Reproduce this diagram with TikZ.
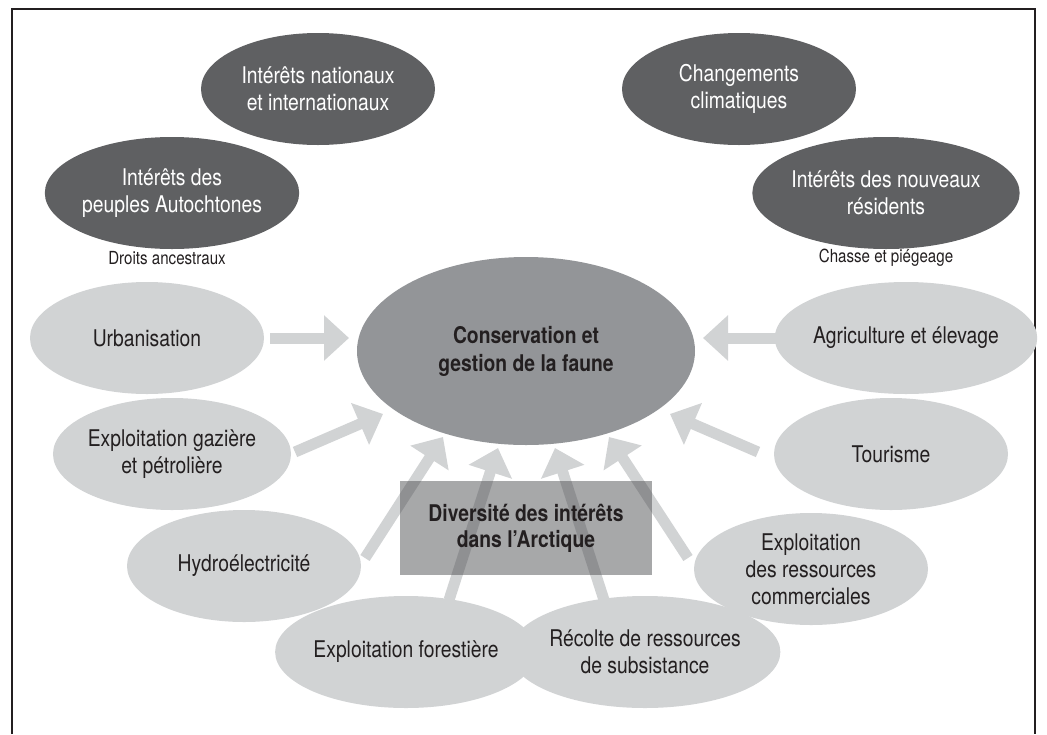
\documentclass[tikz,border=0pt]{standalone}
\usepackage{fontspec}
\setmainfont{TeX Gyre Heros}[FakeStretch=0.84]
\usetikzlibrary{shapes.geometric,arrows.meta}
\definecolor{darkE}{RGB}{95,96,98}
\definecolor{midE}{RGB}{147,149,152}
\definecolor{lightE}{RGB}{209,211,212}
\definecolor{rectC}{RGB}{72,73,76}
\definecolor{txt}{RGB}{35,31,32}
\tikzset{
  baseell/.style={ellipse, inner sep=0pt, align=center, minimum width=234pt, minimum height=112pt, font=\fontsize{23}{27}\selectfont},
  darkell/.style={baseell, fill=darkE, text=white},
  lightell/.style={baseell, fill=lightE, text=txt},
  smalllabel/.style={text=txt, font=\fontsize{18}{20}\selectfont},
  blockarrow/.style={draw=lightE, line width=11pt, -{Triangle[length=25pt,width=44pt]}},
}
\begin{document}
\begin{tikzpicture}[x=1pt,y=-1pt]
\useasboundingbox (0,0) rectangle (1047,734);
% frame (open at bottom)
\draw[line width=1.3pt, draw=txt] (12,734) -- (12,9) -- (1035,9) -- (1035,734);

% dark ellipses
\node[darkell] (nat) at (318,89) {Intérêts nationaux\\et internationaux};
\node[darkell] (aut) at (172,193) {Intérêts des\\peuples Autochtones};
\node[darkell] (chg) at (739,89) {Changements\\climatiques};
\node[darkell] (nouv) at (886,193) {Intérêts des nouveaux\\résidents};
\node[smalllabel] (droits) at (167,258) {Droits ancestraux};
\node[smalllabel] (chasse) at (886,258) {Chasse et piégeage};

% central
\node[baseell, fill=midE, text=txt, minimum width=338pt, minimum height=188pt, font=\fontsize{23}{28}\selectfont\bfseries] (cons) at (526,351) {Conservation et\\gestion de la faune};

% light ellipses
\node[lightell] (urb) at (147,338) {Urbanisation};
\node[lightell] (agr) at (906,338) {Agriculture et élevage};
\node[lightell] (gaz) at (172,454) {Exploitation gazière\\et pétrolière};
\node[lightell] (tour) at (891,454) {Tourisme};
\node[lightell] (hyd) at (244,566) {Hydroélectricité};
\node[lightell] (com) at (811,569) {Exploitation\\des ressources\\commerciales};
\node[lightell] (for) at (406,652) {Exploitation forestière};
\node[lightell] (rec) at (645,652) {Récolte de ressources\\de subsistance};

% arrow end points
\coordinate (urbT) at (270,338); \coordinate (urbH) at (349,338);
\coordinate (agrT) at (782,338); \coordinate (agrH) at (703,338);
\coordinate (gazT) at (295,452); \coordinate (gazH) at (383,414);
\coordinate (tourT) at (758,452); \coordinate (tourH) at (670,414);
\coordinate (hydT) at (365,558); \coordinate (hydH) at (443,437);
\coordinate (comT) at (688,558); \coordinate (comH) at (609,437);
\coordinate (forT) at (449,600); \coordinate (forH) at (498,448);
\coordinate (recT) at (604,600); \coordinate (recH) at (555,448);

\draw[blockarrow] (urbT) -- (urbH);
\draw[blockarrow] (agrT) -- (agrH);
\draw[blockarrow] (gazT) -- (gazH);
\draw[blockarrow] (tourT) -- (tourH);
\draw[blockarrow] (hydT) -- (hydH);
\draw[blockarrow] (comT) -- (comH);
\draw[blockarrow] (forT) -- (forH);
\draw[blockarrow] (recT) -- (recH);

% rectangle
\node[rectangle, fill=rectC, fill opacity=0.48, text opacity=1, text=txt, minimum width=252pt, minimum height=94pt, inner sep=0pt, align=center, font=\fontsize{23}{26}\selectfont\bfseries] (div) at (526,528) {Diversité des intérêts\\dans l’Arctique};
\end{tikzpicture}
\end{document}
